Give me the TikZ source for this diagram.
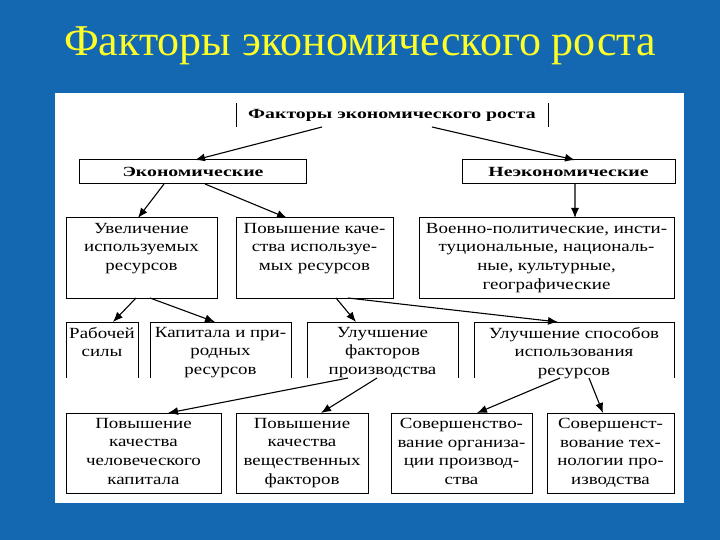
\documentclass[tikz,border=0pt]{standalone}
\usepackage{fontspec}
\setmainfont{Liberation Serif}
\newfontfamily\boxfont[FakeStretch=1.22]{Liberation Serif}
\usetikzlibrary{arrows.meta}
\definecolor{bgblue}{RGB}{20,104,178}
\definecolor{titleyellow}{RGB}{255,255,40}
\newcommand{\bx}[3]{\parbox[c][#2][t]{#1}{\centering\vspace*{5bp}#3}}
\newcommand{\wide}[1]{\scalebox{1.16}[1]{#1}}
\tikzset{
  frame/.style={draw=black,line width=1bp,inner sep=0pt,outer sep=0pt},
  openframe/.style={inner sep=0pt,outer sep=0pt},
  txt/.style={font=\boxfont\fontsize{15.5bp}{18.8bp}\selectfont},
  btxt/.style={font=\boxfont\bfseries\fontsize{14bp}{15bp}\selectfont},
  arr/.style={line width=1.1bp,-{Latex[length=10bp,width=8bp]}},
  side/.style={line width=1bp}
}
\begin{document}
\begin{tikzpicture}[x=1bp,y=-1bp]
\useasboundingbox (0,0) rectangle (720,540);
\fill[bgblue] (0,0) rectangle (720,540);
\node[text=titleyellow,font=\fontsize{44bp}{48bp}\selectfont] (title) at (360,46) {Факторы экономического роста};
\fill[white] (55,93) rectangle (684,503);

% header
\node[openframe,btxt,minimum width=312bp,minimum height=24bp] (hdr) at (392,115) {\wide{Факторы экономического роста}};
\draw[side] (hdr.north west) -- (hdr.south west);
\draw[side] (hdr.north east) -- (hdr.south east);

% level 1
\node[frame,btxt,minimum width=226bp,minimum height=24bp] (eco) at (193,172) {\wide{Экономические}};
\node[frame,btxt,minimum width=213bp,minimum height=24bp] (neco) at (568.5,172) {\wide{Неэкономические}};

% level 2
\node[frame,txt] (inc) at (141.5,258) {\bx{151bp}{80bp}{Увеличение\\используемых\\ресурсов}};
\node[frame,txt] (qual) at (314.5,258) {\bx{157bp}{80bp}{Повышение каче-\\ства используе-\\мых ресурсов}};
\node[frame,txt] (mil) at (546.5,258) {\bx{255bp}{80bp}{Военно-политические, инсти-\\туциональные, националь-\\ные, культурные,\\географические}};

% level 3 (open at the bottom)
\node[openframe,txt] (lab) at (102,350) {\bx{72bp}{56bp}{Рабочей\\силы}};
\node[openframe,txt] (cap) at (220.5,350) {\bx{141bp}{56bp}{Капитала и при-\\родных\\ресурсов}};
\node[openframe,txt] (impf) at (382.5,350) {\bx{151bp}{56bp}{Улучшение\\факторов\\производства}};
\node[openframe,txt] (ways) at (574,350) {\bx{200bp}{56bp}{Улучшение способов\\использования\\ресурсов}};
\foreach \n in {lab,cap,impf,ways}{
  \draw[side] (\n.south west) |- (\n.north east) -- (\n.south east);
}

% level 4
\node[frame,txt] (hq) at (143.5,453) {\bx{155bp}{80bp}{Повышение\\качества\\человеческого\\капитала}};
\node[frame,txt] (mq) at (302,453) {\bx{132bp}{80bp}{Повышение\\качества\\вещественных\\факторов}};
\node[frame,txt] (org) at (461.5,453) {\bx{141bp}{80bp}{Совершенство-\\вание организа-\\ции производ-\\ства}};
\node[frame,txt] (tech) at (610.5,453) {\bx{127bp}{80bp}{Совершенст-\\вование тех-\\нологии про-\\изводства}};

% connectors
\draw[arr] ([xshift=-70bp]hdr.south) -- ([xshift=2bp]eco.north);
\draw[arr] ([xshift=40bp]hdr.south) -- ([xshift=6.5bp]neco.north);
\draw[arr] ([xshift=-29bp]eco.south) -- ([xshift=-3.5bp]inc.north);
\draw[arr] ([xshift=12bp]eco.south) -- ([xshift=-27.5bp]qual.north);
\draw[arr] ([xshift=6.5bp]neco.south) -- ([xshift=28.5bp]mil.north);
\draw[arr] ([xshift=-5.5bp]inc.south) -- ([xshift=11bp]lab.north);
\draw[arr] ([xshift=8.5bp]inc.south) -- ([xshift=-5.5bp]cap.north);
\draw[arr] ([xshift=21.5bp]qual.south) -- ([xshift=-26.5bp]impf.north);
\draw[arr] ([xshift=33.5bp]qual.south) -- ([xshift=-16bp]ways.north);
\draw[arr] ([xshift=-34.5bp]impf.south) -- ([xshift=24.5bp]hq.north);
\draw[arr] ([xshift=-5.5bp]impf.south) -- ([xshift=19bp]mq.north);
\draw[arr] ([xshift=-14bp]ways.south) -- ([xshift=15.5bp]org.north);
\draw[arr] ([xshift=15bp]ways.south) -- ([xshift=-7.5bp]tech.north);
\end{tikzpicture}
\end{document}
